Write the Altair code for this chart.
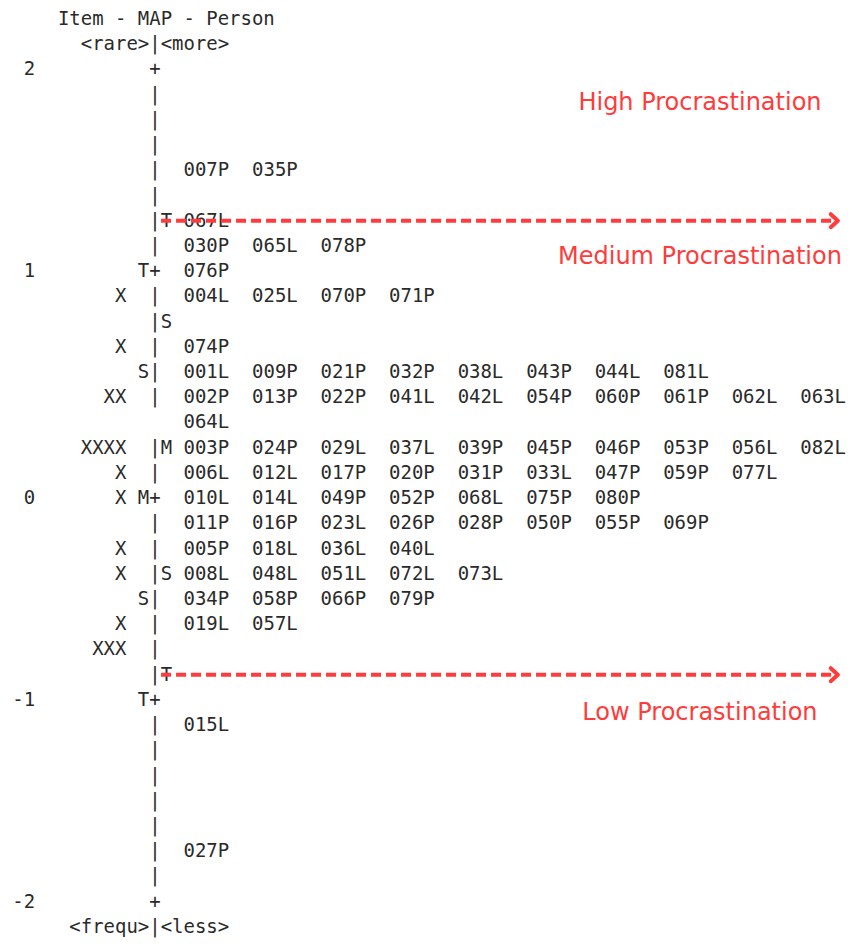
import altair as alt
import pandas as pd

# ---------------- data (Winsteps-style item/person map) ----------------
# rows are text lines counted from the "+2" line (row 0) downward
measure_labels = ["2", "1", "0", "-1", "-2"]
measure_rows = [0, 8, 17, 25, 33]

item_rows = [9, 11, 13, 15, 16, 17, 19, 20, 22, 23]
item_marks = ["X", "X", "XX", "XXXX", "X", "X", "X", "X", "X", "XXX"]

plus_rows = [0, 8, 17, 25, 33]
gap_rows = [14]

left_marker_rows = [8, 12, 17, 21, 25]
left_markers = ["T", "S", "M", "S", "T"]
right_marker_rows = [6, 10, 15, 20, 24]
right_markers = ["T", "S", "M", "S", "T"]

persons_r4 = ["007P", "035P"]
persons_r6 = ["067L"]
persons_r7 = ["030P", "065L", "078P"]
persons_r8 = ["076P"]
persons_r9 = ["004L", "025L", "070P", "071P"]
persons_r11 = ["074P"]
persons_r12 = ["001L", "009P", "021P", "032P", "038L", "043P", "044L", "081L"]
persons_r13 = ["002P", "013P", "022P", "041L", "042L", "054P", "060P", "061P", "062L", "063L"]
persons_r14 = ["064L"]
persons_r15 = ["003P", "024P", "029L", "037L", "039P", "045P", "046P", "053P", "056L", "082L"]
persons_r16 = ["006L", "012L", "017P", "020P", "031P", "033L", "047P", "059P", "077L"]
persons_r17 = ["010L", "014L", "049P", "052P", "068L", "075P", "080P"]
persons_r18 = ["011P", "016P", "023L", "026P", "028P", "050P", "055P", "069P"]
persons_r19 = ["005P", "018L", "036L", "040L"]
persons_r20 = ["008L", "048L", "051L", "072L", "073L"]
persons_r21 = ["034P", "058P", "066P", "079P"]
persons_r22 = ["019L", "057L"]
persons_r26 = ["015L"]
persons_r31 = ["027P"]

person_rows = {
    4: persons_r4, 6: persons_r6, 7: persons_r7, 8: persons_r8, 9: persons_r9,
    11: persons_r11, 12: persons_r12, 13: persons_r13, 14: persons_r14,
    15: persons_r15, 16: persons_r16, 17: persons_r17, 18: persons_r18,
    19: persons_r19, 20: persons_r20, 21: persons_r21, 22: persons_r22,
    26: persons_r26, 31: persons_r31,
}

header_lines = ["Item - MAP - Person", "<rare>|<more>"]
footer_line = ["<frequ>", "|", "<less>"]

band_labels = ["High Procrastination", "Medium Procrastination", "Low Procrastination"]
cut_rows = [6, 24]

# ---------------- build text table (character columns; "|" column = 0) ----------------
recs = []


def put(row, col, text):
    recs.append({"row": row, "x0": col - 0.5, "text": text})


put(-2, -8, header_lines[0])
put(-1, -6, header_lines[1])
put(34, -7, footer_line[0])
put(34, 0, footer_line[1])
put(34, 1, footer_line[2])

for lab, r in zip(measure_labels, measure_rows):
    put(r, -11 - len(lab) + 1, lab)
for r, m in zip(item_rows, item_marks):
    put(r, -3 - len(m) + 1, m)
for r in range(0, 34):
    if r in gap_rows:
        continue
    put(r, 0, "+" if r in plus_rows else "|")
for r, m in zip(left_marker_rows, left_markers):
    put(r, -1, m)
for r, m in zip(right_marker_rows, right_markers):
    put(r, 1, m)
for r, plist in person_rows.items():
    for i, p in enumerate(plist):
        put(r, 3 + 6 * i, p)

df_text = pd.DataFrame(recs)

# ---------------- scales ----------------
W, H = 839, 930
CW = 11.42          # one character column in px
ROW = 25.22         # one text line in px
X0, Y0 = 147.0, 61.4
xs = alt.Scale(domain=[-X0 / CW, (W - X0) / CW], nice=False, zero=False)
ys = alt.Scale(domain=[-Y0 / ROW, (H - Y0) / ROW], nice=False, zero=False, reverse=True)

RED = "#ff3b3b"
INK = "#2a2a2a"

text_layer = alt.Chart(df_text).mark_text(
    align="left", baseline="middle", font="DejaVu Sans Mono", fontSize=18.97, color=INK
).encode(
    x=alt.X("x0:Q", scale=xs, axis=None),
    y=alt.Y("row:Q", scale=ys, axis=None),
    text="text:N",
)

df_arrows = pd.DataFrame({"row": cut_rows, "xa": [0.53, 0.53], "xb": [59.4, 59.4], "tip": [59.8, 59.8]})

arrow_lines = alt.Chart(df_arrows).mark_rule(
    color=RED, strokeWidth=4, strokeDash=[10, 5]
).encode(
    x=alt.X("xa:Q", scale=xs, axis=None),
    x2="xb:Q",
    y=alt.Y("row:Q", scale=ys, axis=None),
)

arrow_heads = alt.Chart(df_arrows).mark_point(
    shape="M -1.1 -1 L 0 0 L -1.1 1", size=170, filled=False, stroke=RED,
    strokeWidth=4, opacity=1, strokeJoin="round", strokeCap="round"
).encode(
    x=alt.X("tip:Q", scale=xs, axis=None),
    y=alt.Y("row:Q", scale=ys, axis=None),
)

df_bands = pd.DataFrame({"label": band_labels, "xc": [47.72] * 3, "row": [1.33, 7.44, 25.52]})

band_text = alt.Chart(df_bands).mark_text(
    align="center", baseline="middle", font="DejaVu Sans", fontSize=24, color=RED
).encode(
    x=alt.X("xc:Q", scale=xs, axis=None),
    y=alt.Y("row:Q", scale=ys, axis=None),
    text="label:N",
)

chart = alt.layer(text_layer, arrow_lines, arrow_heads, band_text).properties(
    width=W, height=H, padding=0, autosize=alt.AutoSizeParams(type="none")
).configure_view(stroke=None)

chart.save("out.html", embed_options={"renderer": "svg", "actions": False})
